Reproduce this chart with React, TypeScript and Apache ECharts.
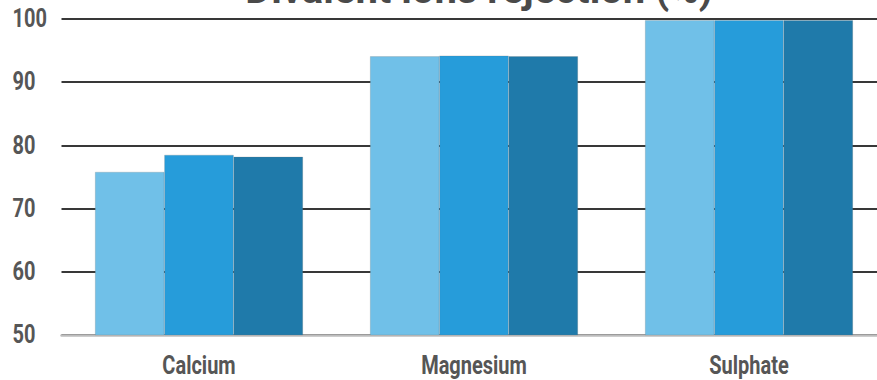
import React, { useEffect, useRef } from "react";
import * as echarts from "echarts";

const categories = ["Calcium", "Magnesium", "Sulphate"];
const seriesA = [75.8, 94.1, 99.8];
const seriesB = [78.5, 94.2, 99.8];
const seriesC = [78.2, 94.1, 99.8];
const yTicks = [50, 60, 70, 80, 90, 100];
const titleText = "Divalent ions rejection (%)";
const colors = ["#70C0E8", "#269CDA", "#1F7AAA"];

const FONT = "Roboto, 'Noto Sans', sans-serif";
const LABEL_COLOR = "#565656";

export default function App() {
  const ref = useRef<HTMLDivElement>(null);

  useEffect(() => {
    if (!ref.current) return;
    const chart = echarts.init(ref.current, undefined, { renderer: "svg" });
    const mkSeries = (data: number[], color: string) => ({
      type: "bar",
      data,
      barGap: "0%",
      barCategoryGap: "24.4%",
      itemStyle: { color, borderColor: "rgba(110,110,110,0.45)", borderWidth: 0.5 },
    });
    chart.setOption({
      animation: false,
      grid: { left: 61.5, width: 825, top: 19, bottom: 45, outerBoundsMode: "none", containLabel: false },
      xAxis: {
        type: "category",
        data: categories,
        axisLine: { lineStyle: { color: "#bdbdbd", width: 2.5 } },
        axisTick: { show: false },
        axisLabel: { show: false },
      },
      yAxis: {
        type: "value",
        min: 50,
        max: 100,
        interval: 10,
        axisLine: { show: false },
        axisTick: { show: false },
        axisLabel: { show: false },
        splitLine: { lineStyle: { color: "#383838", width: 2 } },
      },
      series: [mkSeries(seriesA, colors[0]), mkSeries(seriesB, colors[1]), mkSeries(seriesC, colors[2])],
    });

    // Condensed-looking labels: placed with the axes' own scales, then narrowed.
    const baseY = chart.convertToPixel({ yAxisIndex: 0 }, 50) as number;
    const xLabels = categories.map((c) => ({
      type: "text",
      x: chart.convertToPixel({ xAxisIndex: 0 }, c) as number,
      y: baseY + 31,
      scaleX: 0.8,
      style: {
        text: c,
        fontFamily: FONT,
        fontSize: 25,
        fontWeight: "bold",
        fill: LABEL_COLOR,
        align: "center",
        verticalAlign: "middle",
      },
    }));
    const yLabels = yTicks.map((v) => ({
      type: "text",
      x: 12.5,
      y: chart.convertToPixel({ yAxisIndex: 0 }, v) as number,
      scaleX: 0.8,
      style: {
        text: String(v),
        fontFamily: FONT,
        fontSize: 25,
        fontWeight: "bold",
        fill: LABEL_COLOR,
        align: "left",
        verticalAlign: "middle",
      },
    }));
    const title = {
      type: "text",
      x: 479,
      y: -11,
      style: {
        text: titleText,
        fontFamily: FONT,
        fontSize: 40,
        fontWeight: "bold",
        fill: "#4a4a4a",
        align: "center",
        verticalAlign: "middle",
      },
    };
    chart.setOption({ graphic: [title, ...xLabels, ...yLabels] });

    return () => chart.dispose();
  }, []);

  return <div ref={ref} style={{ width: 877, height: 380, position: "absolute", left: 0, top: 0 }} />;
}
